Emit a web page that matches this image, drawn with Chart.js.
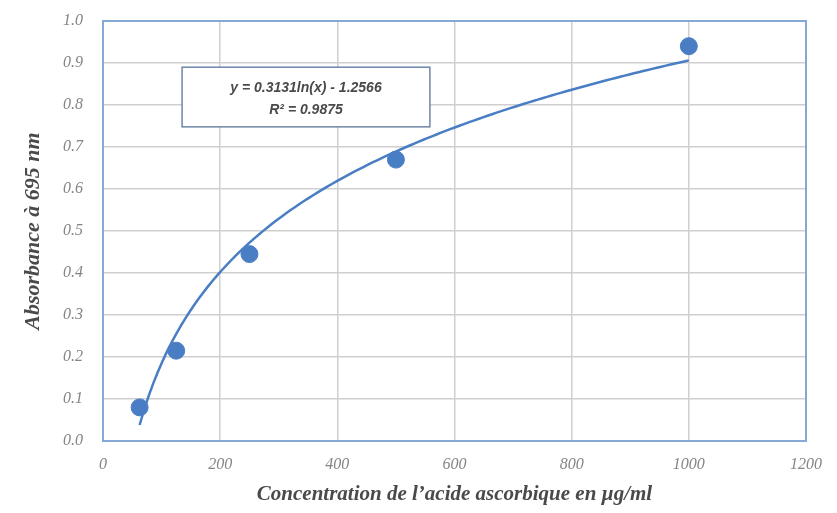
<!DOCTYPE html>
<html>
<head>
<meta charset="utf-8">
<script src="https://cdn.jsdelivr.net/npm/chart.js@4"></script>
<style>
  html, body { margin: 0; padding: 0; background: #fff; }
  #wrap { width: 837px; height: 513px; }
</style>
</head>
<body>
<div id="wrap"><canvas id="calib-chart" width="837" height="513"></canvas></div>
<script>
// Calibration data: ascorbic acid standards
var concentrations = [62.5, 125, 250, 500, 1000];
var absorbances = [0.08, 0.215, 0.445, 0.67, 0.94];

// Log trendline stated on the chart: y = a ln(x) + b
var trendA = 0.3131;
var trendB = -1.2566;
var trendR2 = 0.9875;

var xTicks = [0, 200, 400, 600, 800, 1000, 1200];
var yTicks = [0.0, 0.1, 0.2, 0.3, 0.4, 0.5, 0.6, 0.7, 0.8, 0.9, 1.0];

var blue = '#4a7ec4';

var points = concentrations.map(function (c, i) {
    return { x: c, y: absorbances[i] };
});

// curve sampled across the measured range
var trend = [];
var xMin = concentrations[0], xMax = concentrations[concentrations.length - 1];
for (var i = 0; i <= 120; i++) {
    var x = xMin + (xMax - xMin) * i / 120;
    trend.push({ x: x, y: trendA * Math.log(x) + trendB });
}

// frame around the plot area + equation box
var decorations = {
    id: 'decorations',
    beforeDatasetsDraw: function (chart) {
        var ctx = chart.ctx, a = chart.chartArea;
        ctx.save();
        ctx.strokeStyle = '#86a8d6';
        ctx.lineWidth = 2;
        ctx.strokeRect(a.left, a.top, a.right - a.left, a.bottom - a.top);
        ctx.restore();
    },
    afterDatasetsDraw: function (chart) {
        var ctx = chart.ctx;
        var sx = chart.scales.x, sy = chart.scales.y;
        var left = sx.getPixelForValue(135), right = sx.getPixelForValue(558);
        var top = sy.getPixelForValue(0.89), bottom = sy.getPixelForValue(0.748);
        ctx.save();
        ctx.fillStyle = '#ffffff';
        ctx.fillRect(left, top, right - left, bottom - top);
        ctx.strokeStyle = '#6f86a8';
        ctx.lineWidth = 1.5;
        ctx.strokeRect(left, top, right - left, bottom - top);
        ctx.fillStyle = '#4a4a4a';
        ctx.font = 'italic bold 14px "Liberation Sans"';
        ctx.textAlign = 'center';
        ctx.textBaseline = 'middle';
        var cx = (left + right) / 2;
        ctx.fillText('y = ' + trendA.toFixed(4) + 'ln(x) - ' + Math.abs(trendB).toFixed(4), cx, top + 21);
        ctx.fillText('R\u00B2 = ' + trendR2.toFixed(4), cx, top + 43);
        ctx.restore();
    }
};

var calib = document.getElementById('calib-chart').getContext('2d');
var myChart = new Chart(calib, {
    type: 'scatter',
    data: {
        datasets: [{
            label: 'Trend',
            data: trend,
            showLine: true,
            borderColor: blue,
            borderWidth: 2.5,
            pointRadius: 0,
            fill: false,
            order: 2
        }, {
            label: 'Absorbance',
            data: points,
            backgroundColor: blue,
            borderColor: blue,
            pointRadius: 8.5,
            order: 1
        }]
    },
    options: {
        responsive: false,
        animation: false,
        layout: {
            padding: { top: 21, right: 31, left: 0, bottom: 0 }
        },
        scales: {
            x: {
                type: 'linear',
                min: 0,
                max: 1200,
                afterBuildTicks: function (axis) {
                    axis.ticks = xTicks.map(function (v) { return { value: v }; });
                },
                afterFit: function (axis) { axis.height = 72; },
                grid: { color: '#cfcfcf', lineWidth: 1.5, drawTicks: false },
                border: { display: false },
                ticks: {
                    padding: 14,
                    color: '#858585',
                    font: { family: 'Liberation Serif', style: 'italic', size: 16 },
                    maxRotation: 0,
                    callback: function (v) { return String(v); }
                },
                title: {
                    display: true,
                    text: 'Concentration de l\u2019acide ascorbique en \u00B5g/ml',
                    color: '#4a4a4a',
                    font: { family: 'Liberation Serif', style: 'italic', weight: 'bold', size: 21 },
                    padding: { top: 0, bottom: 6 }
                }
            },
            y: {
                min: 0,
                max: 1,
                afterBuildTicks: function (axis) {
                    axis.ticks = yTicks.map(function (v) { return { value: v }; });
                },
                afterFit: function (axis) {
                    axis.width = 103;
                    axis.paddingTop = 0;
                    axis.paddingBottom = 0;
                },
                grid: { color: '#cfcfcf', lineWidth: 1.5, drawTicks: false },
                border: { display: false },
                ticks: {
                    padding: 20,
                    color: '#858585',
                    font: { family: 'Liberation Serif', style: 'italic', size: 16 },
                    callback: function (v) { return v.toFixed(1); }
                },
                title: {
                    display: true,
                    text: 'Absorbance \u00E0 695 nm',
                    color: '#4a4a4a',
                    font: { family: 'Liberation Serif', style: 'italic', weight: 'bold', size: 22 },
                    padding: { top: 20, bottom: 0 }
                }
            }
        },
        plugins: {
            legend: false,
            tooltip: { enabled: false }
        }
    },
    plugins: [decorations]
});
</script>
</body>
</html>
